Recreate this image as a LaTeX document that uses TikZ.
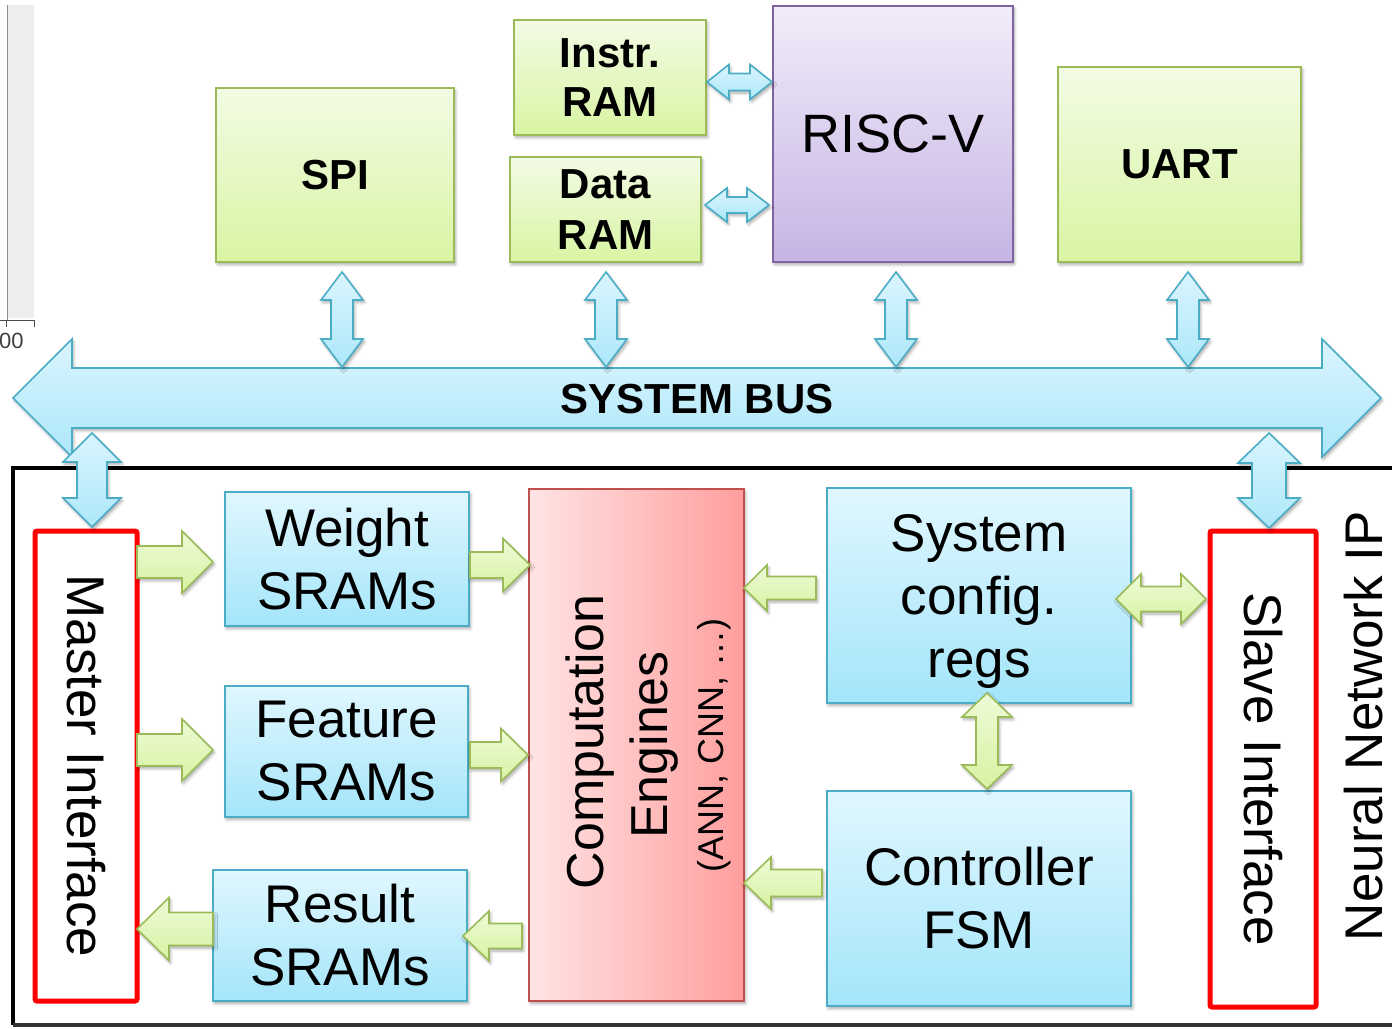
\documentclass[tikz,border=0pt]{standalone}
\usepackage{fontspec}
\setmainfont{Liberation Sans}
\usetikzlibrary{shadows.blur}
\definecolor{grTop}{RGB}{243,251,228}
\definecolor{grBot}{RGB}{216,245,163}
\definecolor{grLine}{RGB}{155,187,89}
\definecolor{blTop}{RGB}{224,247,254}
\definecolor{blBot}{RGB}{164,229,250}
\definecolor{blLine}{RGB}{75,172,198}
\definecolor{puTop}{RGB}{241,236,249}
\definecolor{puBot}{RGB}{198,180,228}
\definecolor{puLine}{RGB}{128,100,162}
\definecolor{pkL}{RGB}{255,228,228}
\definecolor{pkR}{RGB}{255,158,158}
\definecolor{pkLine}{RGB}{192,80,77}
\definecolor{gaTop}{RGB}{238,251,214}
\definecolor{gaBot}{RGB}{214,242,163}
\definecolor{baTop}{RGB}{218,245,254}
\definecolor{baBot}{RGB}{172,231,250}
% single horizontal block arrow: style, tip x, tail x, centre y, shaft half, head half, signed head length
\newcommand\blkH[7]{\draw[#1] (#2,#4) -- ({#2+#7},{#4-#6}) -- ({#2+#7},{#4-#5}) -- (#3,{#4-#5}) -- (#3,{#4+#5}) -- ({#2+#7},{#4+#5}) -- ({#2+#7},{#4+#6}) -- cycle;}
% double horizontal block arrow: style, left tip x, right tip x, centre y, shaft half, head half, head length
\newcommand\blkHH[7]{\draw[#1] (#2,#4) -- ({#2+#7},{#4-#6}) -- ({#2+#7},{#4-#5}) -- ({#3-#7},{#4-#5}) -- ({#3-#7},{#4-#6}) -- (#3,#4) -- ({#3-#7},{#4+#6}) -- ({#3-#7},{#4+#5}) -- ({#2+#7},{#4+#5}) -- ({#2+#7},{#4+#6}) -- cycle;}
% double vertical block arrow: style, top tip y, bottom tip y, centre x, shaft half, head half, head length
\newcommand\blkVV[7]{\draw[#1] (#4,#2) -- ({#4-#6},{#2+#7}) -- ({#4-#5},{#2+#7}) -- ({#4-#5},{#3-#7}) -- ({#4-#6},{#3-#7}) -- (#4,#3) -- ({#4+#6},{#3-#7}) -- ({#4+#5},{#3-#7}) -- ({#4+#5},{#2+#7}) -- ({#4+#6},{#2+#7}) -- cycle;}
\begin{document}
\begin{tikzpicture}[x=1pt,y=-1pt,
  shd/.style={blur shadow={shadow xshift=1.5pt,shadow yshift=-2.5pt,shadow blur radius=3pt,shadow blur steps=6,shadow opacity=35}},
  box/.style={inner sep=0pt, align=center, line width=1.6pt, shd},
  greenbox/.style={box, draw=grLine, top color=grTop, bottom color=grBot, font=\fontsize{42}{51}\selectfont\bfseries},
  bluebox/.style={box, draw=blLine, top color=blTop, bottom color=blBot, font=\fontsize{53}{63}\selectfont},
  purplebox/.style={box, draw=puLine, top color=puTop, bottom color=puBot, font=\fontsize{54}{60}\selectfont},
  pinkbox/.style={box, draw=pkLine, left color=pkL, right color=pkR},
  redbox/.style={draw=red, line width=5pt, fill=white, rounded corners=2pt, inner sep=0pt},
  bluearrow/.style={draw=blLine, line width=1.6pt, line join=miter, top color=baTop, bottom color=baBot, shd},
  greenarrow/.style={draw=grLine, line width=1.6pt, line join=miter, top color=gaTop, bottom color=gaBot, shd},
  bigtxt/.style={font=\fontsize{53}{63}\selectfont, inner sep=0pt}
]
\useasboundingbox (0,0) rectangle (1392,1028);
\clip (0,0) rectangle (1392,1028);

% screenshot remnant at top left
\fill[black!7] (7,5) rectangle (34,318);
\draw[black!45, line width=1pt] (7,5) -- (7,320);
\draw[black!70, line width=1pt] (0,320) -- (34,320) (6,320) -- (6,327) (34,320) -- (34,327);
\node[anchor=west, font=\fontsize{22}{22}\selectfont, text=black!75, inner sep=0pt] (axl) at (-1,341) {00};

% Neural network IP frame
\draw[line width=4pt] (13,1025) -- (13,468) -- (1400,468);
\draw[line width=4pt, black!80] (13,1025) -- (1400,1025);

% top row boxes
\node[greenbox, minimum width=238pt, minimum height=174pt] (spi) at (335,175) {SPI};
\node[greenbox, minimum width=192pt, minimum height=115pt] (iram) at (610,77.5) {\raisebox{-2pt}{Instr.}\\RAM};
\node[greenbox, minimum width=191pt, minimum height=105pt] (dram) at (605.5,209.5) {Data\\RAM};
\node[purplebox, minimum width=240pt, minimum height=256pt] (risc) at (893,134) {RISC-V};
\node[greenbox, minimum width=243pt, minimum height=195pt] (uart) at (1179.5,164.5) {UART};

% system bus
\blkHH{bluearrow}{13}{1381}{398}{30}{59}{59}
\node[font=\fontsize{42}{42}\selectfont\bfseries, inner sep=0pt] (bus) at (697,399) {SYSTEM BUS};

% bus connections
\blkHH{bluearrow}{707}{772}{82}{8.5}{17.5}{22}
\blkHH{bluearrow}{705}{769}{205}{8}{17}{22}
\blkVV{bluearrow}{272}{367}{342}{11}{21}{28}
\blkVV{bluearrow}{272}{367}{606}{11}{21}{28}
\blkVV{bluearrow}{272}{367}{896}{11}{21}{28}
\blkVV{bluearrow}{272}{367}{1188}{11}{21}{28}

% interfaces
\node[redbox, minimum width=102pt, minimum height=470pt] (master) at (86,766) {};
\node[bigtxt, rotate=-90] (mastertxt) at (master.center) {Master Interface};
\node[redbox, minimum width=106pt, minimum height=476pt] (slave) at (1263,769) {};
\node[bigtxt, rotate=-90] (slavetxt) at (slave.center) {Slave Interface};
\node[bigtxt, rotate=90, anchor=base, text depth=0pt] (nnip) at (1382,726) {Neural Network IP};

\blkVV{bluearrow}{433}{527}{92}{15}{29}{29}
\blkVV{bluearrow}{433}{528}{1269}{17}{31}{30}

% inner blocks
\node[bluebox, minimum width=244pt, minimum height=134pt] (wsram) at (347,559) {Weight\\SRAMs};
\node[bluebox, minimum width=243pt, minimum height=131pt] (fsram) at (346.5,751.5) {Feature\\SRAMs};
\node[bluebox, minimum width=254pt, minimum height=131pt] (rsram) at (340,935.5) {Result\\SRAMs};
\node[pinkbox, minimum width=215pt, minimum height=512pt] (comp) at (636.5,745) {};
\node[bigtxt, rotate=90, anchor=base, font=\fontsize{52}{52}\selectfont] (comp1) at (603,742) {Computation};
\node[bigtxt, rotate=90, anchor=base, font=\fontsize{52}{52}\selectfont] (comp2) at (667,745) {Engines};
\node[bigtxt, rotate=90, anchor=base, font=\fontsize{36}{36}\selectfont] (comp3) at (723,745) {(ANN, CNN, …)};
\node[bluebox, minimum width=304pt, minimum height=215pt] (cfg) at (979,595.5) {};
\node[bigtxt, align=center] (cfgtxt) at ([yshift=-5.5pt]cfg.center) {System\\config.\\regs};
\node[bluebox, minimum width=304pt, minimum height=215pt] (fsm) at (979,898.5) {Controller\\FSM};

% data flow arrows
\blkH{greenarrow}{213}{137}{562}{16}{31}{-31}
\blkH{greenarrow}{530}{470}{565}{13}{26.5}{-27}
\blkH{greenarrow}{213}{137}{750}{16}{31}{-31}
\blkH{greenarrow}{528}{470}{755}{13}{26.5}{-27}
\blkH{greenarrow}{137}{213}{929}{16.5}{31.5}{32}
\blkH{greenarrow}{463}{522}{936}{12.5}{25}{26}
\blkH{greenarrow}{744}{816}{588}{11.5}{23}{23}
\blkH{greenarrow}{744}{822}{883}{13.5}{26}{27}
\blkHH{greenarrow}{1116}{1206}{599}{12.5}{25}{25}
\blkVV{greenarrow}{693}{789}{987}{11}{25}{24}
\end{tikzpicture}
\end{document}
